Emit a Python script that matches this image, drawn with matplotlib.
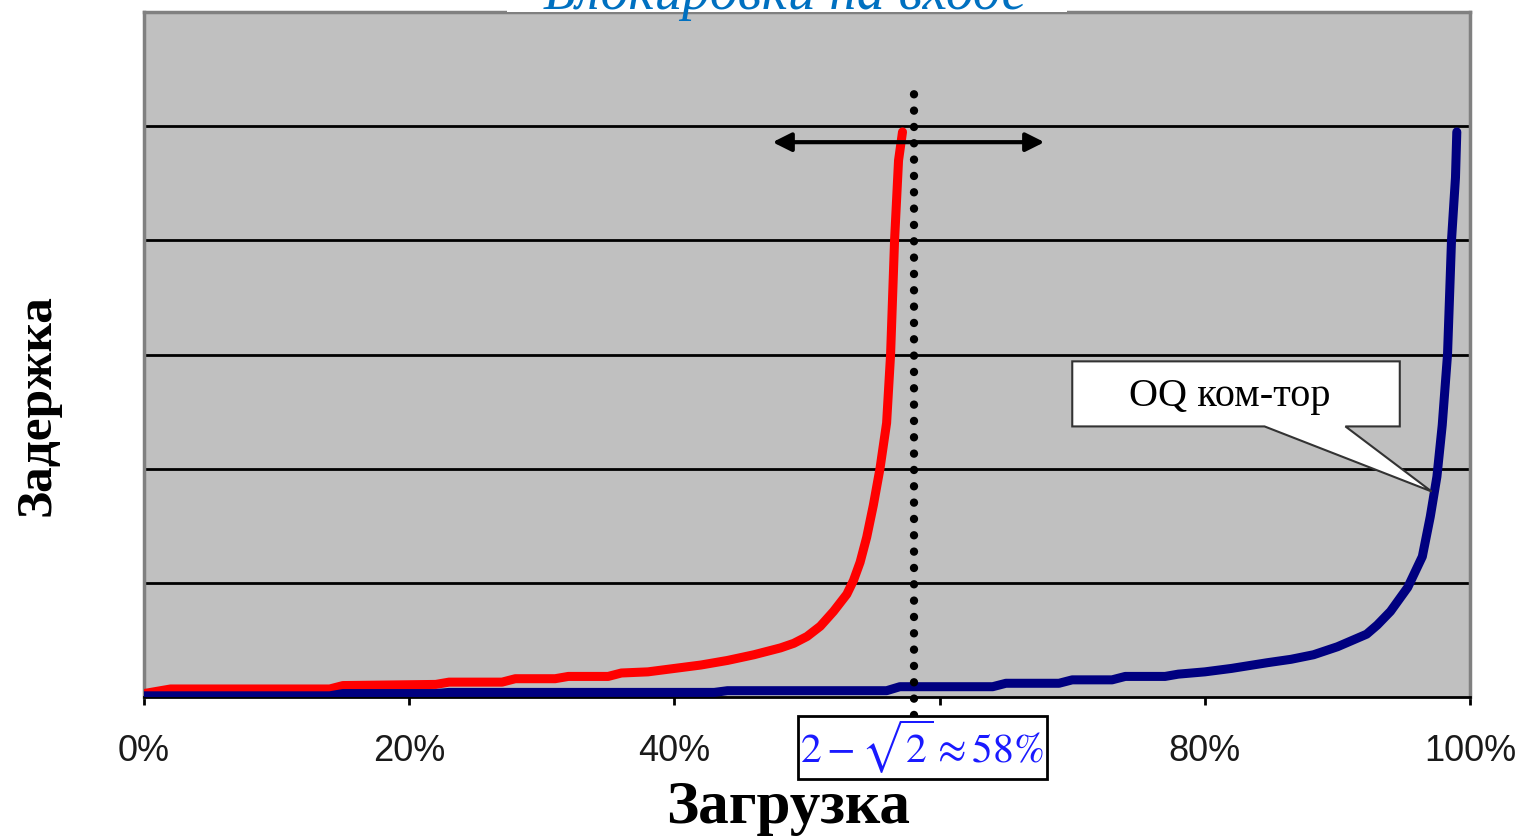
import matplotlib
matplotlib.use('Agg')
import matplotlib.pyplot as plt
from matplotlib.patches import Polygon, Rectangle

# --- dados ---
carga_fila_entrada = [0, 2, 14, 15, 22, 23, 27, 28, 31, 32, 35, 36, 38, 40, 42, 44, 46, 48, 49, 50,
                      51, 52, 53, 53.5, 54, 54.5, 55, 55.5, 56, 56.3, 56.6, 56.9, 57.2]
atraso_fila_entrada = [0.03, 0.07, 0.07, 0.10, 0.11, 0.13, 0.13, 0.16, 0.16, 0.18, 0.18, 0.21, 0.22,
                       0.25, 0.28, 0.32, 0.37, 0.43, 0.47, 0.53, 0.62, 0.75, 0.90, 1.02, 1.18, 1.40,
                       1.68, 2.0, 2.4, 3.0, 4.0, 4.7, 4.95]

carga_oq = [0, 14, 15, 22, 23, 43, 44, 56, 57, 64, 65, 69, 70, 73, 74, 77, 78, 80, 82, 84.7, 86.5,
            88.2, 90, 91, 92.2, 93, 94, 95.3, 96.4, 97.0, 97.5, 97.9, 98.3, 98.6, 98.9, 99.0]
atraso_oq = [0.01, 0.01, 0.03, 0.03, 0.04, 0.04, 0.055, 0.055, 0.09, 0.09, 0.12, 0.12, 0.15, 0.15,
             0.18, 0.18, 0.20, 0.22, 0.25, 0.30, 0.33, 0.37, 0.44, 0.49, 0.55, 0.63, 0.75, 0.96,
             1.23, 1.58, 1.93, 2.38, 3.0, 4.0, 4.55, 4.95]

x_ticks = [0, 20, 40, 60, 80, 100]
x_tick_labels = ['0%', '20%', '40%', '', '80%', '100%']  # 60% fica escondido pela caixa
limite = 58.1  # 2 - sqrt(2)

serif = ['Liberation Serif', 'DejaVu Serif']

fig = plt.figure(figsize=(15.16, 8.36), dpi=100)
ax = fig.add_axes([0.095, 0.1663, 0.8747, 0.8193])
ax.set_facecolor('#c0c0c0')
ax.set_xlim(0, 100)
ax.set_ylim(0, 6)

for yg in [1, 2, 3, 4, 5]:
    ax.axhline(yg, color='black', linewidth=2, zorder=1)

ax.plot(carga_fila_entrada, atraso_fila_entrada, color='#ff0000', linewidth=6.5,
        solid_capstyle='round', zorder=3)
ax.plot(carga_oq, atraso_oq, color='#000080', linewidth=6.5, solid_capstyle='round', zorder=3)

# linha pontilhada do limite
ax.plot([limite, limite], [-0.16, 5.37], color='black', linewidth=6,
        linestyle=(0, (0.01, 1.95)), dash_capstyle='round', clip_on=False, zorder=4)

# seta dupla
ax.annotate('', xy=(47.4, 4.86), xytext=(67.9, 4.86),
            arrowprops=dict(arrowstyle='<|-|>', lw=3, color='black', mutation_scale=28,
                            shrinkA=0, shrinkB=0), zorder=5)

# balão "OQ ком-тор"
balao = Polygon([(70.0, 2.94), (94.7, 2.94), (94.7, 2.37), (90.6, 2.37), (97.1, 1.80),
                 (84.5, 2.37), (70.0, 2.37)], closed=True, facecolor='white',
                edgecolor='#333333', linewidth=1.5, zorder=5)
ax.add_patch(balao)
ax.text(81.9, 2.63, 'OQ ком-тор', ha='center', va='center', fontsize=29,
        family=serif, color='black', zorder=6)

for side in ['top', 'left', 'right']:
    ax.spines[side].set_color('#808080')
    ax.spines[side].set_linewidth(2.5)
ax.spines['bottom'].set_color('black')
ax.spines['bottom'].set_linewidth(2)

ax.set_yticks([])
ax.set_xticks(x_ticks)
ax.set_xticklabels(x_tick_labels, family=['Liberation Sans', 'DejaVu Sans'],
                   fontsize=26, color='#1a1a1a')
ax.tick_params(axis='x', direction='out', length=6, width=2, pad=21, color='black')

# caixa 2 - sqrt(2)
ax.text(58.7, -0.44, r'$\mathrm{2}-\sqrt{\mathrm{2}}\approx\mathrm{58\%}$', ha='center',
        va='center', fontsize=30, color='#1a1aff', math_fontfamily='stix', zorder=10,
        clip_on=False,
        bbox=dict(boxstyle='square,pad=0.06', facecolor='white', edgecolor='black', linewidth=2))

fig.text(0.520, 0.033, 'Загрузка', ha='center', va='center', fontsize=44,
         fontweight='bold', family=serif)
fig.text(0.025, 0.516, 'Задержка', ha='center', va='center', rotation=90, fontsize=37,
         fontweight='bold', family=serif)

# título cortado no topo
fig.patches.append(Rectangle((507 / 1516, 1 - 12 / 836), 560 / 1516, 12 / 836,
                             transform=fig.transFigure, facecolor='white', edgecolor='none',
                             zorder=1))
fig.text(0.518, 1 - 9 / 836, 'Блокировки на входе', ha='center', va='baseline', fontsize=40,
         style='italic', color='#0070c0', family=serif, zorder=3)

fig.savefig('out.png', dpi=100, facecolor='white')
